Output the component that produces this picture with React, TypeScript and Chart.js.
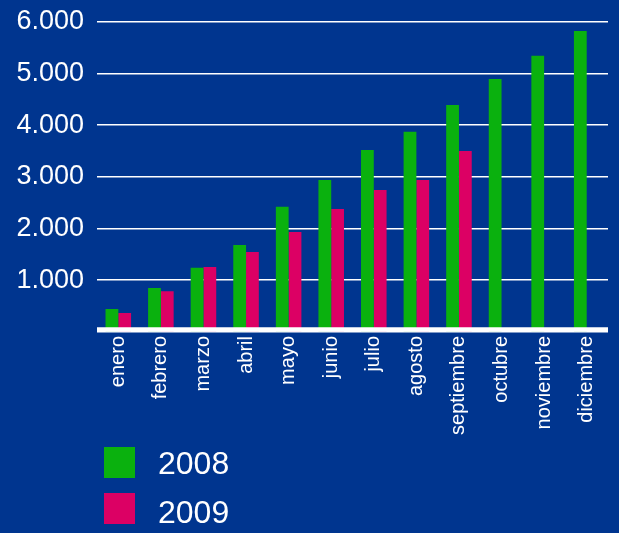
import React, { useEffect, useRef } from "react";
import { Chart, registerables } from "chart.js";

Chart.register(...registerables);

const months = ["enero", "febrero", "marzo", "abril", "mayo", "junio", "julio", "agosto", "septiembre", "octubre", "noviembre", "diciembre"];
const values2008 = [445, 850, 1240, 1680, 2420, 2940, 3520, 3870, 4390, 4890, 5340, 5820];
const values2009: (number | null)[] = [365, 790, 1255, 1545, 1935, 2380, 2745, 2940, 3500, null, null, null];
const yTickLabels = ["", "1.000", "2.000", "3.000", "4.000", "5.000", "6.000"];
const seriesNames = ["2008", "2009"];

const BG = "#00358f";
const GREEN = "#0ab10e";
const MAGENTA = "#dc0064";
const FONT = "'Liberation Sans', Arial, sans-serif";

const axisLinePlugin = {
  id: "axisLine",
  afterDatasetsDraw(chart: any) {
    const { ctx, chartArea } = chart;
    ctx.save();
    ctx.strokeStyle = "#ffffff";
    ctx.lineWidth = 4.5;
    ctx.beginPath();
    ctx.moveTo(chartArea.left, chartArea.bottom - 2.5);
    ctx.lineTo(chartArea.right, chartArea.bottom - 2.5);
    ctx.stroke();
    ctx.restore();
  },
};

export default function App() {
  const ref = useRef<HTMLCanvasElement>(null);
  useEffect(() => {
    const chart = new Chart(ref.current!, {
      type: "bar",
      data: {
        labels: months,
        datasets: [
          { label: seriesNames[0], data: values2008, backgroundColor: GREEN, borderWidth: 0 },
          { label: seriesNames[1], data: values2009 as any, backgroundColor: MAGENTA, borderWidth: 0 },
        ],
      },
      options: {
        animation: false,
        responsive: true,
        maintainAspectRatio: false,
        layout: { padding: { top: 21.7, right: 11, bottom: 0, left: 0 } },
        plugins: { legend: { display: false }, tooltip: { enabled: false } },
        datasets: { bar: { categoryPercentage: 0.6, barPercentage: 1.0 } },
        scales: {
          x: {
            grid: { display: false, drawTicks: false },
            border: { display: false },
            ticks: {
              color: "#ffffff",
              font: { family: FONT, size: 20 },
              minRotation: 90,
              maxRotation: 90,
              autoSkip: false,
              padding: 4,
            },
            afterFit: (scale: any) => {
              scale.height = 201;
            },
          },
          y: {
            min: 0,
            max: 6000,
            grid: { color: "#ffffff", lineWidth: 1.6, drawTicks: true, tickLength: 13, tickColor: "rgba(0,0,0,0)" },
            border: { display: false },
            ticks: {
              stepSize: 1000,
              color: "#ffffff",
              font: { family: FONT, size: 27 },
              padding: 0,
              callback: (_v: any, i: number) => yTickLabels[i],
            },
            afterFit: (scale: any) => {
              scale.width = 97;
            },
          },
        },
      },
      plugins: [axisLinePlugin],
    });
    return () => chart.destroy();
  }, []);

  const legendColors = [GREEN, MAGENTA];
  const squareTops = [447, 493];
  const textTops = [446.5, 496];

  return (
    <div style={{ position: "fixed", left: 0, top: 0, width: 619, height: 533, background: BG, overflow: "hidden" }}>
      <canvas ref={ref} style={{ position: "absolute", left: 0, top: 0, width: 619, height: 533 }} />
      {seriesNames.map((name, i) => (
        <React.Fragment key={name}>
          <div style={{ position: "absolute", left: 104, top: squareTops[i], width: 31, height: 31, background: legendColors[i] }} />
          <div style={{ position: "absolute", left: 158, top: textTops[i], fontFamily: FONT, fontSize: 32, lineHeight: "32px", color: "#ffffff" }}>{name}</div>
        </React.Fragment>
      ))}
    </div>
  );
}
